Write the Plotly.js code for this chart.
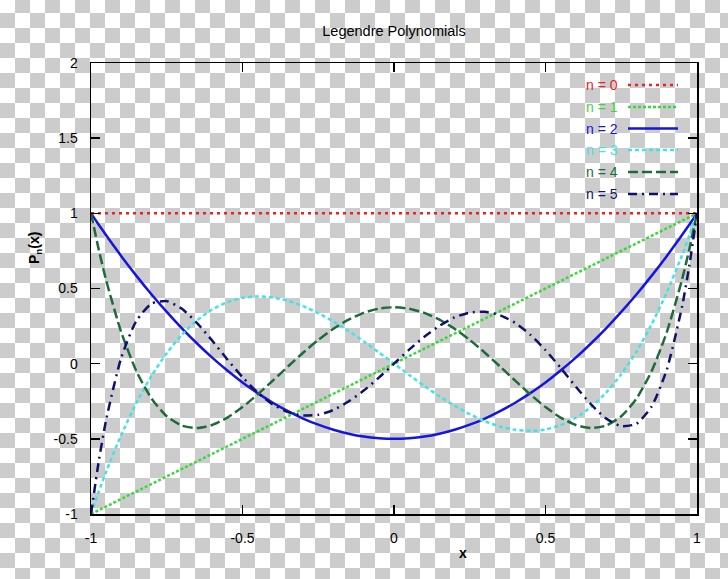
<!DOCTYPE html>
<html>
<head>
<meta charset="utf-8">
<script src="https://cdn.plot.ly/plotly-3.0.1.min.js"></script>
<style>
html,body{margin:0;padding:0;}
body{width:728px;height:579px;overflow:hidden;
background:repeating-conic-gradient(#cccccc 0% 25%, #ffffff 0% 50%) 0 -2px / 30px 30px;}
#chart{width:728px;height:579px;}
</style>
</head>
<body>
<div id="chart"></div>
<script>
// x samples read along the axis
const xs = [-1,-0.975,-0.95,-0.9,-0.85,-0.8,-0.75,-0.7,-0.65,-0.6,-0.55,-0.5,-0.45,-0.4,-0.35,-0.3,-0.25,-0.2,-0.15,-0.1,-0.05,
  0,0.05,0.1,0.15,0.2,0.25,0.3,0.35,0.4,0.45,0.5,0.55,0.6,0.65,0.7,0.75,0.8,0.85,0.9,0.95,0.975,1];
const p0 = [1,1,1,1,1,1,1,1,1,1,1,1,1,1,1,1,1,1,1,1,1,1,1,1,1,1,1,1,1,1,1,1,1,1,1,1,1,1,1,1,1,1,1];
const p1 = [-1,-0.975,-0.95,-0.9,-0.85,-0.8,-0.75,-0.7,-0.65,-0.6,-0.55,-0.5,-0.45,-0.4,-0.35,-0.3,-0.25,-0.2,-0.15,-0.1,-0.05,
  0,0.05,0.1,0.15,0.2,0.25,0.3,0.35,0.4,0.45,0.5,0.55,0.6,0.65,0.7,0.75,0.8,0.85,0.9,0.95,0.975,1];
const p2 = [1,0.926,0.854,0.715,0.584,0.46,0.344,0.235,0.134,0.04,-0.046,-0.125,-0.196,-0.26,-0.316,-0.365,-0.406,-0.44,-0.466,-0.485,-0.496,
  -0.5,-0.496,-0.485,-0.466,-0.44,-0.406,-0.365,-0.316,-0.26,-0.196,-0.125,-0.046,0.04,0.134,0.235,0.344,0.46,0.584,0.715,0.854,0.926,1];
const p3 = [-1,-0.855,-0.718,-0.473,-0.26,-0.08,0.07,0.193,0.288,0.36,0.409,0.438,0.447,0.44,0.418,0.383,0.336,0.28,0.217,0.148,0.075,
  0,-0.075,-0.148,-0.217,-0.28,-0.336,-0.383,-0.418,-0.44,-0.447,-0.438,-0.409,-0.36,-0.288,-0.193,-0.07,0.08,0.26,0.473,0.718,0.855,1];
const p4 = [1,0.764,0.554,0.208,-0.051,-0.233,-0.35,-0.412,-0.428,-0.408,-0.359,-0.289,-0.205,-0.113,-0.019,0.073,0.158,0.232,0.293,0.338,0.366,
  0.375,0.366,0.338,0.293,0.232,0.158,0.073,-0.019,-0.113,-0.205,-0.289,-0.359,-0.408,-0.428,-0.412,-0.35,-0.233,-0.051,0.208,0.554,0.764,1];
const p5 = [-1,-0.657,-0.373,0.041,0.286,0.4,0.416,0.365,0.27,0.153,0.028,-0.09,-0.192,-0.271,-0.322,-0.345,-0.34,-0.308,-0.252,-0.179,-0.093,
  0,0.093,0.179,0.252,0.308,0.34,0.345,0.322,0.271,0.192,0.09,-0.028,-0.153,-0.27,-0.365,-0.416,-0.4,-0.286,-0.041,0.373,0.657,1];

const seriesNames = ["n = 0","n = 1","n = 2","n = 3","n = 4","n = 5"];
const seriesValues = [p0,p1,p2,p3,p4,p5];
const xTicks = [-1,-0.5,0,0.5,1];
const xTickLabels = ["-1","-0.5","0","0.5","1"];
const yTicks = [-1,-0.5,0,0.5,1,1.5,2];
const yTickLabels = ["-1","-0.5","0","0.5","1","1.5","2"];

const colors = ["#e8202a","#3ad83a","#1515e0","#40e4e4","#1e6b3a","#10106e"];
const dashes = ["3px,4px","3px,2px","solid","4px,3px","10px,4px","9px,5px,2px,5px"];
const widths = [2.5,2.5,2.5,2.5,2.5,2.5];

const font = "Liberation Sans, Arial, sans-serif";

const traces = seriesValues.map((ys,i)=>({
  x: xs, y: ys, type:"scatter", mode:"lines", name: seriesNames[i],
  line:{color:colors[i], width:widths[i], dash:dashes[i], shape: i<2 ? "linear" : "spline", smoothing:0.6},
  showlegend:false, hoverinfo:"skip"
}));

// manual legend (text, then a line sample to its right)
const L = 91, R = 697, T = 63, B = 514;
const pw = R-L, ph = B-T;
const legendRows = [85,107,128.5,150,172,194];
const annotations = [];
const shapes = [];
legendRows.forEach((py,i)=>{
  const yp = (B-py)/ph;
  annotations.push({xref:"paper",yref:"paper",x:(620-L)/pw,y:yp,xanchor:"right",yanchor:"middle",
    text:seriesNames[i],showarrow:false,font:{family:font,size:14,color:colors[i]}});
  shapes.push({type:"line",xref:"paper",yref:"paper",x0:(628-L)/pw,x1:(678-L)/pw,y0:yp,y1:yp,
    line:{color:colors[i],width:widths[i],dash:dashes[i]}});
});
annotations.push({xref:"paper",yref:"paper",x:(463-L)/pw,y:(B-553)/ph,xanchor:"center",yanchor:"middle",
  text:"<b>x</b>",showarrow:false,font:{family:font,size:14,color:"#000"}});
annotations.push({xref:"paper",yref:"paper",x:(35-L)/pw,y:(B-248)/ph,xanchor:"center",yanchor:"middle",
  text:"<b>P<sub>n</sub>(x)</b>",textangle:-90,showarrow:false,font:{family:font,size:14,color:"#000"}});

const axisCommon = {
  showline:true, linecolor:"#000", linewidth:1.5, mirror:"ticks",
  ticks:"inside", ticklen:9, tickwidth:1.5, tickcolor:"#000",
  showgrid:false, zeroline:false, tickfont:{family:font,size:14,color:"#000"}, fixedrange:true
};

const layout = {
  width:728, height:579,
  margin:{l:L, r:728-R, t:T, b:579-B, pad:0},
  paper_bgcolor:"rgba(0,0,0,0)", plot_bgcolor:"rgba(0,0,0,0)",
  title:{text:"Legendre Polynomials", font:{family:font,size:14.5,color:"#000"},
    x:(L+R)/2/728, xanchor:"center", y:1-31/579, yanchor:"middle", xref:"container", yref:"container"},
  xaxis:Object.assign({}, axisCommon, {range:[-1,1], tickvals:xTicks, ticktext:xTickLabels, ticklabelstandoff:11}),
  yaxis:Object.assign({}, axisCommon, {range:[-1,2], tickvals:yTicks, ticktext:yTickLabels, ticklabelstandoff:9}),
  showlegend:false,
  annotations:annotations, shapes:shapes
};

Plotly.newPlot("chart", traces, layout, {displayModeBar:false, staticPlot:true});
</script>
</body>
</html>
